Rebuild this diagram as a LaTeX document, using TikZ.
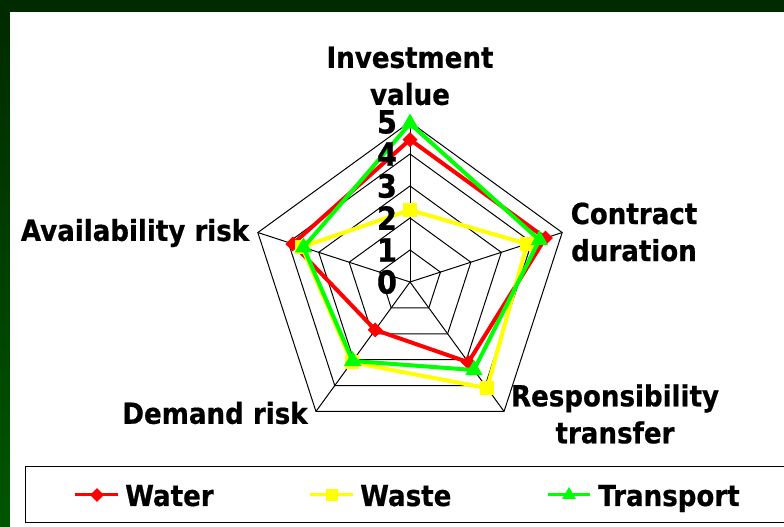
\documentclass[tikz,border=0pt]{standalone}
\usepackage{fontspec}
\setmainfont{DejaVu Sans}[FakeStretch=0.9, BoldFeatures={FakeBold=0.6}]
\usetikzlibrary{shapes.geometric}

\definecolor{framegreen}{RGB}{0,43,0}
\definecolor{framelight}{RGB}{0,85,0}
\definecolor{waterred}{RGB}{255,0,0}
\definecolor{wasteyellow}{RGB}{255,255,0}
\definecolor{transgreen}{RGB}{0,255,0}

\tikzset{
    bigtext/.style={font=\bfseries\fontsize{29}{37}\selectfont, align=center, inner sep=0pt},
    ticktext/.style={font=\bfseries\fontsize{32}{32}\selectfont, inner sep=0pt},
    gridline/.style={black, line width=1pt},
    series/.style={#1, line width=4pt, line join=miter},
    keyline/.style={#1, line width=3pt},
    diamondmark/.style={diamond, fill=waterred, inner sep=0pt, minimum size=15pt},
    squaremark/.style={rectangle, fill=wasteyellow, inner sep=0pt, minimum size=14pt},
    trianglemark/.style={regular polygon, regular polygon sides=3, fill=transgreen, inner sep=0pt, minimum size=20pt}
}

\begin{document}
\begin{tikzpicture}[x=1pt, y=1pt]
    \useasboundingbox (0,0) rectangle (784,527);
    \fill[framegreen] (0,0) rectangle (784,527);
    \shade[top color=framegreen, bottom color=framelight] (0,0) rectangle (10,515);
    \fill[white] (10,0) rectangle (784,515);

    \begin{scope}[shift={(410pt,245pt)}, x=32pt, y=32pt]
        \coordinate (centre) at (0,0);
        \foreach \r in {1,...,5}
            \draw[gridline] (90:\r) -- (18:\r) -- (-54:\r) -- (-126:\r) -- (162:\r) -- cycle;
        \foreach \a [count=\i] in {90,18,-54,-126,162}
            \coordinate (spoke\i) at (\a:5);
        \foreach \i in {1,...,5}
            \draw[gridline] (centre) -- (spoke\i);

        \foreach \a/\v [count=\i] in {90/4.45,18/4.45,-54/3.1,-126/1.85,162/3.85}
            \coordinate (water\i) at (\a:\v);
        \foreach \a/\v [count=\i] in {90/2.25,18/3.85,-54/4.1,-126/3.1,162/3.55}
            \coordinate (waste\i) at (\a:\v);
        \foreach \a/\v [count=\i] in {90/4.95,18/4.25,-54/3.4,-126/3.05,162/3.5}
            \coordinate (trans\i) at (\a:\v);

        \draw[series=waterred] (water1) -- (water2) -- (water3) -- (water4) -- (water5) -- cycle;
        \foreach \i in {1,...,5}
            \node[diamondmark] (waterm\i) at (water\i) {};
        \draw[series=wasteyellow] (waste1) -- (waste2) -- (waste3) -- (waste4) -- (waste5) -- cycle;
        \foreach \i in {1,...,5}
            \node[squaremark] (wastem\i) at (waste\i) {};
        \draw[series=transgreen] (trans1) -- (trans2) -- (trans3) -- (trans4) -- (trans5) -- cycle;
        \foreach \i in {1,...,5}
            \node[trianglemark] (transm\i) at (trans\i) {};

        \foreach \r in {0,...,5}
            \node[ticktext, anchor=east] (tick\r) at (-0.4,\r) {\r};
    \end{scope}

    \node[bigtext] (investment) at (410,451) {Investment\\value};
    \node[bigtext] (contract) at (634,295) {Contract\\duration};
    \node[bigtext] (responsibility) at (615,113) {Responsibility\\transfer};
    \node[bigtext] (demand) at (215,114) {Demand risk};
    \node[bigtext] (availability) at (135,294) {Availability risk};

    \draw[line width=1pt] (25,4) rectangle (790,60);
    \coordinate (waterl) at (75,32);
    \coordinate (waterr) at (118,32);
    \coordinate (wastel) at (310,32);
    \coordinate (waster) at (353,32);
    \coordinate (transl) at (548,32);
    \coordinate (transr) at (590,32);
    \draw[keyline=waterred] (waterl) -- (waterr);
    \node[diamondmark, minimum size=14pt] (waterkey) at (97,32) {};
    \draw[keyline=wasteyellow] (wastel) -- (waster);
    \node[squaremark, minimum size=12pt] (wastekey) at (332,32) {};
    \draw[keyline=transgreen] (transl) -- (transr);
    \node[trianglemark, minimum size=16pt] (transkey) at (569,32) {};
    \node[bigtext, anchor=base west] (waterlabel) at (125,21) {Water};
    \node[bigtext, anchor=base west] (wastelabel) at (360,21) {Waste};
    \node[bigtext, anchor=base west] (translabel) at (598,21) {Transport};
\end{tikzpicture}
\end{document}
